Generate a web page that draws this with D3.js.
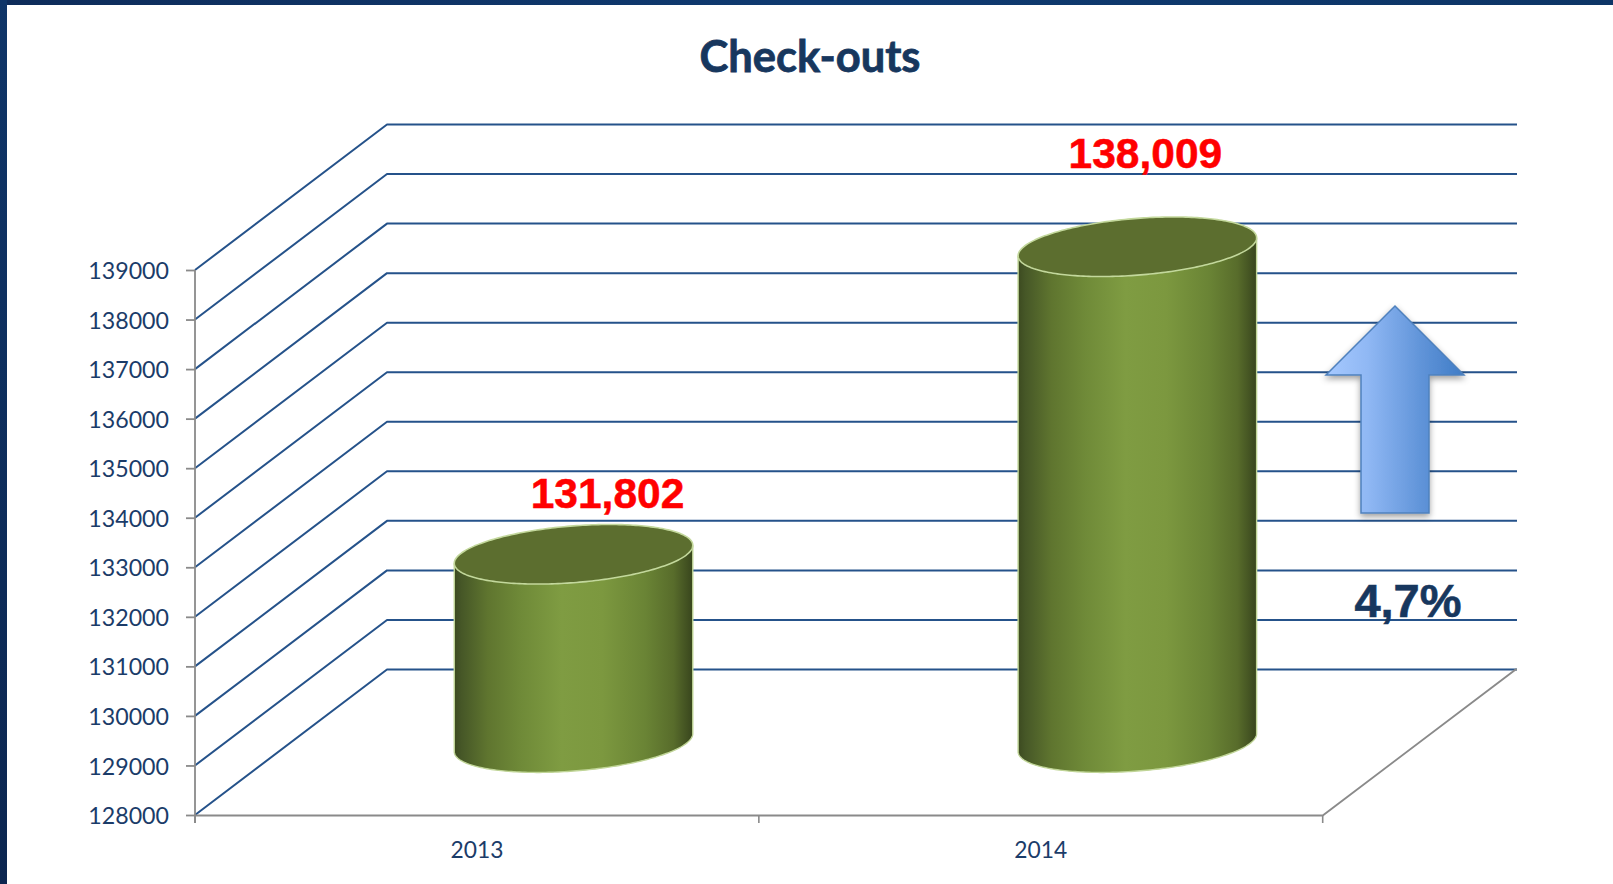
<!DOCTYPE html>
<html><head><meta charset="utf-8">
<script src="https://cdn.jsdelivr.net/npm/d3@7"></script>
<style>html,body{margin:0;padding:0;background:#fff;overflow:hidden}svg{display:block}</style>
</head><body><svg id="c" width="1613" height="884"></svg>
<script>
const title = "Check-outs";
const categories = ["2013", "2014"];
const seriesValues = [131802, 138009];
const valueLabels = ["131,802", "138,009"];
const tickValues = [128000,129000,130000,131000,132000,133000,134000,135000,136000,137000,138000,139000];
const changeLabel = "4,7%";

const W = 1613, H = 884;
const left = 195, right = 1322.7, floorY = 815, topY = 270;
const depthX = 192, depthY = -145.5;
const y = d3.scaleLinear().domain([128000, 139000]).range([floorY, topY]);
const x = d3.scaleBand().domain(categories).range([left, right]);
const svg = d3.select("#c");
const defs = svg.append("defs");

function grad(id, stops, x1, x2) {
  const g = defs.append("linearGradient").attr("id", id)
    .attr("x1", x1 || "0").attr("x2", x2 === undefined ? "1" : x2).attr("y1", 0).attr("y2", x2 === 0 ? 1 : 0);
  stops.forEach(s => g.append("stop").attr("offset", s[0]).attr("stop-color", s[1]));
}
grad("cyl", [[0,"#3c4a20"],[0.03,"#465727"],[0.14,"#5f752f"],[0.28,"#6f8a38"],[0.45,"#7f9c42"],[0.62,"#7c983f"],[0.8,"#6a8435"],[0.92,"#586c2b"],[1,"#38451d"]]);
grad("arrow", [[0,"#a6c9ff"],[0.3,"#90b8f4"],[0.7,"#5f93d8"],[1,"#3f7cc6"]]);
grad("frameTop", [[0,"#0e2c5a"],[0.5,"#0f3a70"],[1,"#0d3566"]]);
grad("frameLeft", [[0,"#0f3568"],[1,"#0c2650"]], "0", 0);
const shadow = defs.append("filter").attr("id","shadow").attr("x","-20%").attr("y","-20%").attr("width","140%").attr("height","140%");
shadow.append("feDropShadow").attr("dx",0).attr("dy",3).attr("stdDeviation",3).attr("flood-color","#000").attr("flood-opacity",0.38);

// frame
svg.append("rect").attr("width", W).attr("height", 5).attr("fill", "url(#frameTop)");
svg.append("rect").attr("width", 7).attr("height", H).attr("fill", "url(#frameLeft)");

// gridlines (side wall + back wall)
const gridLine = d3.line();
svg.append("g").selectAll("path").data(tickValues).join("path")
  .attr("d", d => gridLine([[left, y(d)], [left + depthX, y(d) + depthY], [1517, y(d) + depthY]]))
  .attr("fill", "none").attr("stroke", "#25528a").attr("stroke-width", 2).attr("stroke-linejoin","round");

// floor
svg.append("path").attr("fill","none").attr("stroke","#8a8a8a").attr("stroke-width",1.8)
  .attr("d", gridLine([[left, floorY + .5],[right, floorY + .5],[right + depthX + 1, floorY + depthY],[1517, floorY + depthY]]));

// y axis
const yAxis = d3.axisLeft(y).tickValues(tickValues).tickFormat(d3.format("d")).tickSize(9).tickPadding(17);
const gy = svg.append("g").attr("transform", `translate(${left},0)`).call(yAxis);
gy.select(".domain").attr("stroke","#8a8a8a").attr("stroke-width",1.8).attr("d", `M0,${topY}V${floorY + 8}`);
gy.selectAll(".tick line").attr("stroke","#8a8a8a").attr("stroke-width",1.8);
gy.selectAll("text").attr("font-family","Lato").attr("font-size",23.2).attr("fill","#1b3c69").attr("dy","0.37em");

// x axis
const gx = svg.append("g").attr("transform", `translate(0,${floorY})`).call(d3.axisBottom(x).tickSize(0).tickPadding(27));
gx.select(".domain").remove();
gx.selectAll("text").attr("font-family","Lato").attr("font-size",22.8).attr("fill","#1b3c69");
const edges = [...categories.map(c => x(c)), right];
svg.append("g").selectAll("line").data(edges).join("line")
  .attr("x1", d => d).attr("x2", d => d).attr("y1", floorY).attr("y2", floorY + 8)
  .attr("stroke","#8a8a8a").attr("stroke-width",1.6);

// cylinders
const rx = x.bandwidth() * 0.2115, tilt = 9, ry = 28.4;
const offX = depthX / 2 + 0.6, offY = depthY / 2 + 0.4;
const labelDx = [34, 8], labelRise = [46, 79];
const pt = (cx, cy, t) => [cx + rx * Math.cos(t), cy - tilt * Math.cos(t) + ry * Math.sin(t)];
const angles = d3.range(0, 121).map(i => i / 120 * Math.PI);
const curve = d3.line();
categories.forEach((c, i) => {
  const cx = x(c) + x.bandwidth() / 2 + offX;
  const yt = y(seriesValues[i]) + offY, yb = y(128000) + offY;
  const body = [pt(cx, yt, Math.PI), ...angles.slice().reverse().map(t => pt(cx, yb, t)), pt(cx, yt, 0)];
  svg.append("path").attr("d", curve(body) ).attr("fill","url(#cyl)")
    .attr("stroke","#c0d597").attr("stroke-width",1.4).attr("stroke-linejoin","round");
  const top = [...angles.map(t => pt(cx, yt, t)), ...angles.map(t => pt(cx, yt, t + Math.PI))];
  svg.append("path").attr("d", curve(top) + "Z").attr("fill","#5c6e2f")
    .attr("stroke","#c3d89c").attr("stroke-width",1.6);
  svg.append("text").attr("x", cx + labelDx[i]).attr("y", yt - labelRise[i])
    .attr("text-anchor","middle").attr("font-family","Liberation Sans").attr("font-weight","bold")
    .attr("font-size",42.5).attr("fill","#ff0000").attr("stroke","#ff0000").attr("stroke-width",0.5).text(valueLabels[i]);
});

// arrow
const arrowCx = 1395, shaftHalf = 34, headHalf = 69, tipY = 306, wingY = 375, baseY = 513;
const arrowPts = [[arrowCx,tipY],[arrowCx+headHalf,wingY],[arrowCx+shaftHalf,wingY],[arrowCx+shaftHalf,baseY],[arrowCx-shaftHalf,baseY],[arrowCx-shaftHalf,wingY],[arrowCx-headHalf,wingY]];
svg.append("path").attr("d", gridLine(arrowPts) + "Z").attr("fill","url(#arrow)")
  .attr("stroke","#4f81bd").attr("stroke-width",1.5).attr("filter","url(#shadow)");

svg.append("text").attr("x",1408).attr("y",616.5).attr("text-anchor","middle")
  .attr("font-family","Liberation Sans").attr("font-weight","bold").attr("font-size",47)
  .attr("fill","#17375e").attr("stroke","#17375e").attr("stroke-width",0.6).text(changeLabel);

svg.append("text").attr("x",810).attr("y",71.5).attr("text-anchor","middle")
  .attr("font-family","Lato").attr("font-weight","bold").attr("font-size",43.5)
  .attr("fill","#17375e").attr("stroke","#17375e").attr("stroke-width",0.8).text(title);
</script></body></html>
